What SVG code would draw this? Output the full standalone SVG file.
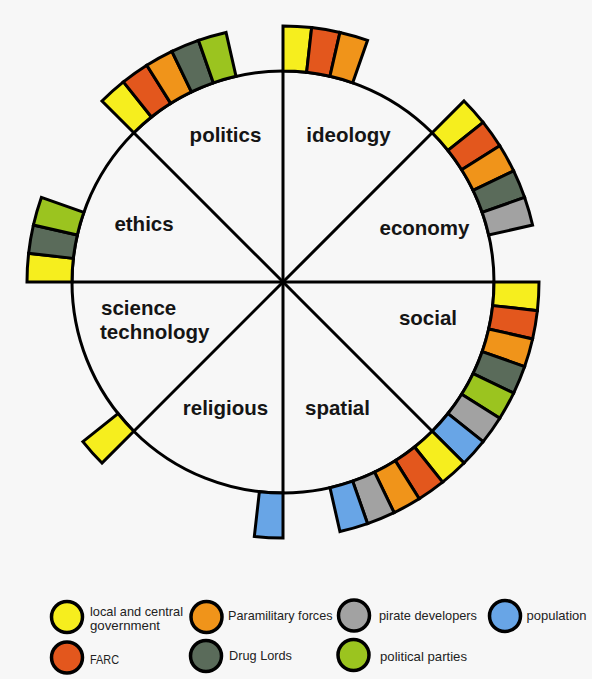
<svg xmlns="http://www.w3.org/2000/svg" xmlns:xlink="http://www.w3.org/1999/xlink" width="592" height="679" viewBox="0 0 592 679">
  <style>
    .bg{fill:#f7f7f7}
    .ring{fill:none;stroke:#000;stroke-width:3}
    .div{stroke:#000;stroke-width:3;fill:none}
    .blk{stroke:#000;stroke-width:3;stroke-linejoin:miter}
    .lbl{font-family:"Liberation Sans",Arial,Helvetica,sans-serif;font-weight:bold;font-size:20.5px;fill:#151515}
    .gov{fill:#f6ee1e}
    .farc{fill:#e3571d}
    .para{fill:#f0941a}
    .drug{fill:#5a6b5a}
    .party{fill:#9bc41f}
    .pirate{fill:#a2a2a2}
    .pop{fill:#68a5e6}
    .key circle{stroke:#000;stroke-width:3.5}
    .key text{font-family:"Liberation Sans",Arial,sans-serif;font-size:12.8px;fill:#222}
  </style>
  <defs>
    <!-- one ring cell, 360/56 degrees wide, drawn at north around the origin -->
    <path id="cell" d="M0,-211 L0,-256 A256,256 0 0 1 28.66,-254.39 L23.62,-209.67 A211,211 0 0 0 0,-211 Z"/>
  </defs>

  <rect class="bg" x="0" y="0" width="592" height="679"/>

  <circle class="ring" cx="283" cy="282" r="211"/>

  <g id="connectors">
    <line class="div" x1="283" y1="71" x2="283" y2="493"/>
    <line class="div" x1="72" y1="282" x2="494" y2="282"/>
    <line class="div" x1="133.8" y1="132.8" x2="432.2" y2="431.2"/>
    <line class="div" x1="432.2" y1="132.8" x2="133.8" y2="431.2"/>
  </g>

  <g id="ideology">
    <use xlink:href="#cell" class="blk gov" transform="translate(283 282) rotate(0)"/>
    <use xlink:href="#cell" class="blk farc" transform="translate(283 282) rotate(6.4286)"/>
    <use xlink:href="#cell" class="blk para" transform="translate(283 282) rotate(12.8571)"/>
    <text class="lbl" x="348.5" y="142" text-anchor="middle">ideology</text>
  </g>

  <g id="economy">
    <use xlink:href="#cell" class="blk gov" transform="translate(283 282) rotate(45)"/>
    <use xlink:href="#cell" class="blk farc" transform="translate(283 282) rotate(51.4286)"/>
    <use xlink:href="#cell" class="blk para" transform="translate(283 282) rotate(57.8571)"/>
    <use xlink:href="#cell" class="blk drug" transform="translate(283 282) rotate(64.2857)"/>
    <use xlink:href="#cell" class="blk pirate" transform="translate(283 282) rotate(70.7143)"/>
    <text class="lbl" x="424.5" y="235" text-anchor="middle">economy</text>
  </g>

  <g id="social">
    <use xlink:href="#cell" class="blk gov" transform="translate(283 282) rotate(90)"/>
    <use xlink:href="#cell" class="blk farc" transform="translate(283 282) rotate(96.4286)"/>
    <use xlink:href="#cell" class="blk para" transform="translate(283 282) rotate(102.8571)"/>
    <use xlink:href="#cell" class="blk drug" transform="translate(283 282) rotate(109.2857)"/>
    <use xlink:href="#cell" class="blk party" transform="translate(283 282) rotate(115.7143)"/>
    <use xlink:href="#cell" class="blk pirate" transform="translate(283 282) rotate(122.1429)"/>
    <use xlink:href="#cell" class="blk pop" transform="translate(283 282) rotate(128.5714)"/>
    <text class="lbl" x="428" y="325" text-anchor="middle">social</text>
  </g>

  <g id="spatial">
    <use xlink:href="#cell" class="blk gov" transform="translate(283 282) rotate(135)"/>
    <use xlink:href="#cell" class="blk farc" transform="translate(283 282) rotate(141.4286)"/>
    <use xlink:href="#cell" class="blk para" transform="translate(283 282) rotate(147.8571)"/>
    <use xlink:href="#cell" class="blk pirate" transform="translate(283 282) rotate(154.2857)"/>
    <use xlink:href="#cell" class="blk pop" transform="translate(283 282) rotate(160.7143)"/>
    <text class="lbl" x="337.5" y="414.5" text-anchor="middle">spatial</text>
  </g>

  <g id="religious">
    <use xlink:href="#cell" class="blk pop" transform="translate(283 282) rotate(180)"/>
    <text class="lbl" x="225.5" y="414.5" text-anchor="middle">religious</text>
  </g>

  <g id="science-technology">
    <use xlink:href="#cell" class="blk gov" transform="translate(283 282) rotate(225)"/>
    <text class="lbl" x="101" y="315">science</text>
    <text class="lbl" x="100" y="338.5">technology</text>
  </g>

  <g id="ethics">
    <use xlink:href="#cell" class="blk gov" transform="translate(283 282) rotate(270)"/>
    <use xlink:href="#cell" class="blk drug" transform="translate(283 282) rotate(276.4286)"/>
    <use xlink:href="#cell" class="blk party" transform="translate(283 282) rotate(282.8571)"/>
    <text class="lbl" x="144" y="231" text-anchor="middle">ethics</text>
  </g>

  <g id="politics">
    <use xlink:href="#cell" class="blk gov" transform="translate(283 282) rotate(315)"/>
    <use xlink:href="#cell" class="blk farc" transform="translate(283 282) rotate(321.4286)"/>
    <use xlink:href="#cell" class="blk para" transform="translate(283 282) rotate(327.8571)"/>
    <use xlink:href="#cell" class="blk drug" transform="translate(283 282) rotate(334.2857)"/>
    <use xlink:href="#cell" class="blk party" transform="translate(283 282) rotate(340.7143)"/>
    <text class="lbl" x="225.5" y="142" text-anchor="middle">politics</text>
  </g>

  <g id="legend" class="key">
    <circle class="gov" cx="67" cy="617" r="15.5"/>
    <text x="90" y="615.5"><tspan x="90" y="615.5" textLength="93" lengthAdjust="spacingAndGlyphs">local and central</tspan><tspan x="90" y="630" textLength="70" lengthAdjust="spacingAndGlyphs">government</tspan></text>

    <circle class="farc" cx="67" cy="657.5" r="15.5"/>
    <text x="90" y="663.5" textLength="29" lengthAdjust="spacingAndGlyphs">FARC</text>

    <circle class="para" cx="206.5" cy="617" r="15.5"/>
    <text x="228" y="620" textLength="104.5" lengthAdjust="spacingAndGlyphs">Paramilitary forces</text>

    <circle class="drug" cx="206" cy="656" r="15.5"/>
    <text x="229" y="660" textLength="63" lengthAdjust="spacingAndGlyphs">Drug Lords</text>

    <circle class="pirate" cx="354" cy="615.5" r="15.5"/>
    <text x="379" y="620" textLength="98" lengthAdjust="spacingAndGlyphs">pirate developers</text>

    <circle class="party" cx="353.5" cy="655" r="15.5"/>
    <text x="380" y="661" textLength="87" lengthAdjust="spacingAndGlyphs">political parties</text>

    <circle class="pop" cx="505" cy="616" r="15.5"/>
    <text x="526.5" y="619.5" textLength="60" lengthAdjust="spacingAndGlyphs">population</text>
  </g>
</svg>
